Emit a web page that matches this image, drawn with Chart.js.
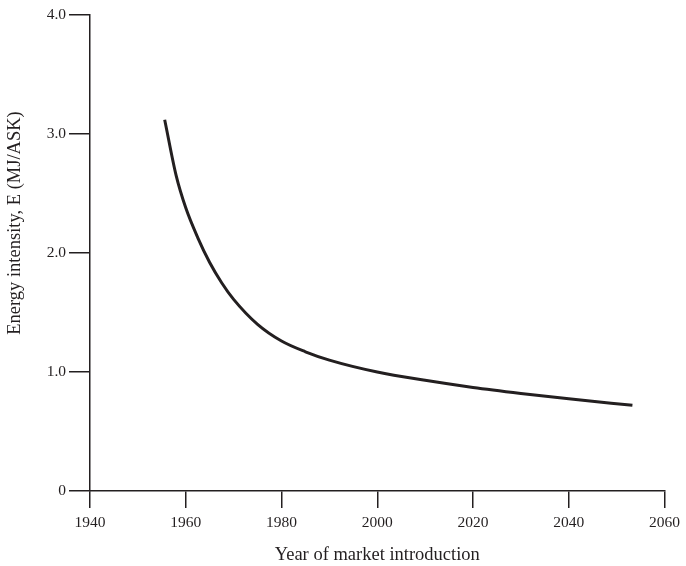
<!DOCTYPE html>
<html>
<head>
<meta charset="utf-8">
<script src="https://cdn.jsdelivr.net/npm/chart.js@4"></script>
<style>
  html, body { margin: 0; padding: 0; background: #fff; }
  #wrap { width: 686px; height: 566px; }
</style>
</head>
<body>
<div id="wrap"><canvas id="energyChart"></canvas></div>
<script>
const years = [1955.6, 1958, 1960, 1962.5, 1965, 1967.5, 1970, 1975, 1980, 1985, 1990, 2000, 2010, 2020, 2030, 2040, 2053.3];
const intensity = [3.12, 2.65, 2.38, 2.13, 1.92, 1.75, 1.61, 1.40, 1.26, 1.17, 1.10, 1.00, 0.93, 0.87, 0.82, 0.775, 0.72];
const yTickLabels = ["0", "1.0", "2.0", "3.0", "4.0"];

const ink = "#231f20";
const serif = "'Liberation Serif', 'DejaVu Serif', serif";

// y title drawn by hand so it sits where the original has it
const yTitlePlugin = {
  id: "yTitle",
  afterDraw(chart) {
    const c = chart.ctx;
    c.save();
    c.translate(15, 223);
    c.rotate(-Math.PI / 2);
    c.font = "18.5px " + serif;
    c.fillStyle = ink;
    c.textAlign = "center";
    c.textBaseline = "middle";
    c.fillText("Energy intensity, E (MJ/ASK)", 0, 0);
    c.restore();
  },
};

new Chart(document.getElementById("energyChart").getContext("2d"), {
  type: "line",
  data: {
    datasets: [
      {
        data: years.map((yr, i) => ({ x: yr, y: intensity[i] })),
        borderColor: ink,
        borderWidth: 3,
        pointRadius: 0,
        fill: false,
        cubicInterpolationMode: "monotone",
      },
    ],
  },
  options: {
    responsive: true,
    maintainAspectRatio: false,
    animation: false,
    layout: { padding: { left: 0, right: 17, top: 15, bottom: 0 } },
    scales: {
      x: {
        type: "linear",
        min: 1940,
        max: 2060,
        afterFit: (scale) => { scale.height = 75; },
        ticks: {
          stepSize: 20,
          padding: 6,
          color: ink,
          font: { family: serif, size: 15.5 },
          callback: (v) => String(v),
        },
        grid: {
          drawOnChartArea: false,
          drawTicks: true,
          tickLength: 17,
          color: ink,
          lineWidth: 1.5,
        },
        border: { display: true, color: ink, width: 1.5 },
        title: {
          display: true,
          text: "Year of market introduction",
          color: ink,
          font: { family: serif, size: 18.5 },
          padding: { top: 6, bottom: 0 },
        },
      },
      y: {
        min: 0,
        max: 4,
        afterFit: (scale) => { scale.width = 90; },
        ticks: {
          stepSize: 1,
          padding: 3,
          color: ink,
          font: { family: serif, size: 15.5 },
          callback: (v) => yTickLabels[v],
        },
        grid: {
          drawOnChartArea: false,
          drawTicks: true,
          tickLength: 21,
          color: ink,
          lineWidth: 1.5,
        },
        border: { display: true, color: ink, width: 1.5 },
      },
    },
    plugins: {
      legend: { display: false },
      tooltip: { enabled: false },
    },
  },
  plugins: [yTitlePlugin],
});
</script>
</body>
</html>
